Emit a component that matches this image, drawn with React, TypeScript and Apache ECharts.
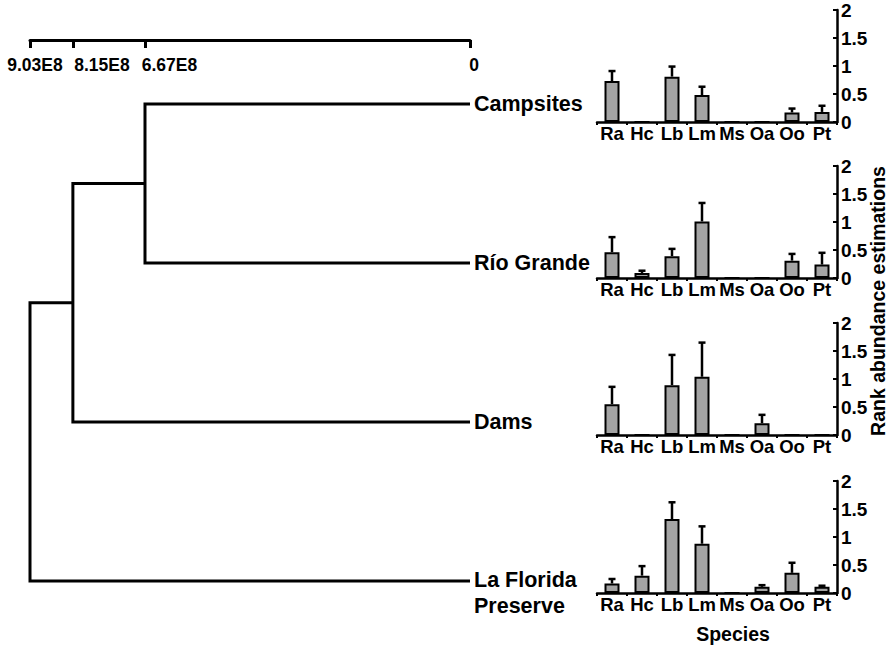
import React, { useEffect, useRef } from "react";
import * as echarts from "echarts";

// ---------- data ----------
const sites = ["Campsites", "Río Grande", "Dams", "La Florida\nPreserve"];
const species = ["Ra", "Hc", "Lb", "Lm", "Ms", "Oa", "Oo", "Pt"];
// dendrogram merge heights (distance), in order of merging leaves top-down
const mergeHeights = [6.67e8, 8.15e8, 9.03e8];
const scaleTickValues = [9.03e8, 8.15e8, 6.67e8, 0];
const scaleTickLabels = ["9.03E8", "8.15E8", "6.67E8", "0"];

const campsitesMean = [0.73, 0, 0.81, 0.48, 0, 0, 0.17, 0.18];
const campsitesErr = [0.18, 0, 0.18, 0.15, 0, 0, 0.07, 0.11];
const rioGrandeMean = [0.46, 0.09, 0.39, 1.01, 0, 0, 0.31, 0.24];
const rioGrandeErr = [0.27, 0.04, 0.13, 0.33, 0, 0, 0.12, 0.21];
const damsMean = [0.55, 0, 0.89, 1.04, 0, 0.21, 0, 0];
const damsErr = [0.31, 0, 0.54, 0.61, 0, 0.15, 0, 0];
const laFloridaMean = [0.17, 0.31, 1.32, 0.88, 0, 0.11, 0.36, 0.11];
const laFloridaErr = [0.08, 0.17, 0.3, 0.31, 0, 0.03, 0.18, 0.02];

const yAxisName = "Rank abundance estimations";
const xAxisName = "Species";

const FONT = "'Liberation Sans', Arial, Helvetica, sans-serif";

export default function App() {
  const ref = useRef<HTMLDivElement>(null);

  useEffect(() => {
    if (!ref.current) return;
    const chart = echarts.init(ref.current, undefined, { renderer: "svg" });

    const panels = [
      { mean: campsitesMean, err: campsitesErr },
      { mean: rioGrandeMean, err: rioGrandeErr },
      { mean: damsMean, err: damsErr },
      { mean: laFloridaMean, err: laFloridaErr },
    ];
    const baselines = [122, 278, 435, 593];
    const panelH = 112;
    const maxDist = Math.max(...mergeHeights);

    // dendrogram segments
    const segs: number[][][] = [];
    let nodeY = 0;
    let nodeH = 0;
    mergeHeights.forEach((h, i) => {
      const leafY = i + 1;
      if (i === 0) {
        segs.push([[0, 0], [h, 0], [h, leafY], [0, leafY]]);
      } else {
        segs.push([[nodeH, nodeY], [h, nodeY], [h, leafY], [0, leafY]]);
      }
      nodeY = i === 0 ? leafY / 2 : (nodeY + leafY) / 2;
      nodeH = h;
    });

    const labelShift = [10, 58, 49, 8];
    const rich: any = {};
    labelShift.forEach((s, i) => {
      rich["p" + i] = {
        padding: [0, 0, 0, s],
        fontSize: 17.5,
        fontWeight: "bold",
        fontFamily: FONT,
        color: "#000",
      };
    });

    const grids: any[] = [
      // distance scale bar
      { left: 30, right: 422, top: 0, height: 40, outerBoundsMode: "none" },
      // dendrogram
      { left: 30, right: 422, top: 104, height: 477, outerBoundsMode: "none" },
    ];
    const xAxes: any[] = [
      {
        gridIndex: 0,
        type: "value",
        position: "bottom",
        inverse: true,
        min: 0,
        max: maxDist,
        splitLine: { show: false },
        axisLine: { show: true, lineStyle: { color: "#000", width: 3 } },
        axisTick: {
          show: true,
          length: 8,
          customValues: scaleTickValues,
          lineStyle: { color: "#000", width: 3 },
        },
        axisLabel: {
          show: true,
          margin: 16,
          customValues: scaleTickValues,
          formatter: (v: number) => {
            const i = scaleTickValues.indexOf(v);
            return i < 0 ? "" : "{p" + i + "|" + scaleTickLabels[i] + "}";
          },
          rich,
        },
      },
      {
        gridIndex: 1,
        type: "value",
        inverse: true,
        min: 0,
        max: maxDist,
        show: false,
      },
    ];
    const yAxes: any[] = [
      { gridIndex: 0, type: "value", min: 0, max: 1, show: false },
      {
        gridIndex: 1,
        type: "value",
        inverse: true,
        min: 0,
        max: sites.length - 1,
        show: false,
      },
    ];

    const series: any[] = segs.map((s) => ({
      type: "line",
      xAxisIndex: 1,
      yAxisIndex: 1,
      data: s,
      symbol: "none",
      clip: false,
      silent: true,
      lineStyle: { color: "#000", width: 3, join: "miter", cap: "butt" },
    }));

    series.push({
      type: "scatter",
      xAxisIndex: 1,
      yAxisIndex: 1,
      symbolSize: 0,
      clip: false,
      silent: true,
      itemStyle: { opacity: 1 },
      data: sites.map((name, i) => ({
        value: [0, i],
        name,
        label: i === sites.length - 1 ? { offset: [0, 12] } : undefined,
      })),
      label: {
        show: true,
        position: "right",
        distance: 4,
        formatter: (p: any) => p.name,
        color: "#000",
        opacity: 1,
        fontSize: 21.5,
        fontWeight: "bold",
        fontFamily: FONT,
        lineHeight: 26,
        align: "left",
      },
    });

    panels.forEach((p, k) => {
      const gi = k + 2;
      grids.push({
        left: 597,
        right: 55,
        top: baselines[k] - panelH,
        height: panelH,
        outerBoundsMode: "none",
      });
      const isLast = k === panels.length - 1;
      xAxes.push({
        gridIndex: gi,
        type: "category",
        data: species,
        axisLine: { show: true, onZero: false, lineStyle: { color: "#000", width: 2.5 } },
        axisTick: { show: true, length: 3, lineStyle: { color: "#000", width: 2 } },
        axisLabel: {
          interval: 0,
          margin: 2,
          color: "#000",
          fontSize: 18.5,
          fontWeight: "bold",
          fontFamily: FONT,
        },
        splitLine: { show: false },
        name: isLast ? xAxisName : "",
        nameLocation: "middle",
        nameGap: 31,
        nameTextStyle: {
          color: "#000",
          fontSize: 19.5,
          fontWeight: "bold",
          fontFamily: FONT,
          padding: [0, 0, 0, 32],
        },
      });
      yAxes.push({
        gridIndex: gi,
        type: "value",
        position: "right",
        min: 0,
        max: 2,
        interval: 0.5,
        splitLine: { show: false },
        axisLine: { show: true, lineStyle: { color: "#000", width: 2.5 } },
        axisTick: { show: true, inside: true, length: 4, lineStyle: { color: "#000", width: 2 } },
        axisLabel: {
          margin: 4,
          color: "#000",
          fontSize: 19,
          fontWeight: "bold",
          fontFamily: FONT,
        },
      });
      series.push({
        type: "bar",
        xAxisIndex: gi,
        yAxisIndex: gi,
        data: p.mean,
        barCategoryGap: "50%",
        silent: true,
        itemStyle: { color: "#a4a4a4", borderColor: "#000", borderWidth: 2 },
      });
      series.push({
        type: "custom",
        xAxisIndex: gi,
        yAxisIndex: gi,
        silent: true,
        clip: false,
        data: p.mean.map((v, i) => [i, v, p.err[i]]),
        encode: { x: 0, y: 1 },
        renderItem: (params: any, api: any) => {
          const x = api.value(0);
          const v = api.value(1);
          const e = api.value(2);
          if (!e) return null;
          const p0 = api.coord([x, v]);
          const p1 = api.coord([x, v + e]);
          const st = { stroke: "#000", lineWidth: 2.5 };
          return {
            type: "group",
            children: [
              { type: "line", shape: { x1: p0[0], y1: p0[1], x2: p1[0], y2: p1[1] }, style: st },
              { type: "line", shape: { x1: p1[0] - 3.5, y1: p1[1], x2: p1[0] + 3.5, y2: p1[1] }, style: st },
            ],
          };
        },
      });
    });

    chart.setOption({
      animation: false,
      backgroundColor: "#fff",
      grid: grids,
      xAxis: xAxes,
      yAxis: yAxes,
      series,
      graphic: [
        {
          type: "text",
          x: 878,
          y: 301,
          rotation: Math.PI / 2,
          style: {
            text: yAxisName,
            fill: "#000",
            fontSize: 19.5,
            fontWeight: "bold",
            fontFamily: FONT,
            align: "center",
            verticalAlign: "middle",
          },
        },
      ],
    });

    return () => chart.dispose();
  }, []);

  return (
    <div
      ref={ref}
      style={{ position: "absolute", left: 0, top: 0, width: 892, height: 646 }}
    />
  );
}
